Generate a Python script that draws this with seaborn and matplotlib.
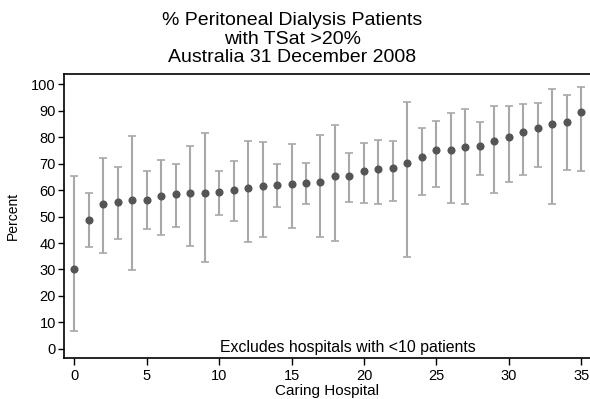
import matplotlib
matplotlib.use("Agg")
import matplotlib.pyplot as plt
import seaborn as sns
import numpy as np
import pandas as pd

hospital = list(range(36))
percent = [30.0, 48.7, 54.6, 55.6, 56.3, 56.4, 57.8, 58.5, 58.8, 58.9, 59.1, 60.0,
           60.9, 61.5, 62.0, 62.4, 62.7, 63.0, 65.2, 65.2, 67.2, 67.8, 68.2, 70.1,
           72.4, 75.1, 75.1, 76.1, 76.8, 78.6, 80.0, 81.8, 83.4, 84.8, 85.8, 89.6]
lower = [6.6, 38.4, 36.4, 41.4, 29.9, 45.3, 43.2, 46.2, 39.0, 33.0, 50.7, 48.4,
         40.4, 42.2, 53.6, 45.8, 54.6, 42.4, 40.8, 55.4, 55.1, 54.9, 56.0, 34.9,
         58.3, 61.1, 55.1, 54.9, 65.5, 59.0, 63.2, 65.7, 68.6, 54.6, 67.5, 67.0]
upper = [65.2, 58.7, 72.0, 68.7, 80.3, 67.1, 71.2, 69.8, 76.5, 81.7, 67.1, 70.8,
         78.5, 78.1, 69.7, 77.3, 70.1, 80.6, 84.7, 74.1, 77.7, 78.8, 78.4, 93.2,
         83.6, 86.0, 89.2, 90.6, 85.8, 91.7, 91.6, 92.3, 93.0, 98.0, 95.9, 98.9]

title_lines = ["% Peritoneal Dialysis Patients", "with TSat >20%", "Australia 31 December 2008"]
note = "Excludes hospitals with <10 patients"
x_ticks = [0, 5, 10, 15, 20, 25, 30, 35]
y_ticks = list(range(0, 101, 10))

df = pd.DataFrame({"hospital": hospital, "percent": percent,
                   "lower": lower, "upper": upper})

sns.set_style("white")
plt.rcParams["font.family"] = ["Liberation Sans", "DejaVu Sans"]
plt.rcParams["text.color"] = "black"
plt.rcParams["axes.labelcolor"] = "black"
plt.rcParams["xtick.color"] = "black"
plt.rcParams["ytick.color"] = "black"

fig = plt.figure(figsize=(5.9, 3.99), dpi=100)
ax = fig.add_axes([0.109, 0.1035, 0.891, 0.711])

yerr = np.vstack([df["percent"] - df["lower"], df["upper"] - df["percent"]])
ax.errorbar(df["hospital"], df["percent"], yerr=yerr, fmt="none",
            ecolor="#a8a8a8", elinewidth=1.5, capsize=2.6, capthick=1.2, zorder=2)
sns.scatterplot(data=df, x="hospital", y="percent", ax=ax, color="#555555",
                s=34, edgecolor="#555555", linewidth=0, zorder=3, legend=False)

ax.set_xlim(-0.68, 35.6)
ax.set_ylim(-3.3, 103.8)
ax.set_xticks(x_ticks)
ax.set_yticks(y_ticks)
ax.tick_params(axis="both", which="both", direction="out", length=4, width=1,
               color="black", labelcolor="black", labelsize=10.5,
               bottom=True, left=True, pad=2)
ax.tick_params(axis="x", length=5, pad=3)
ax.set_xlabel("Caring Hospital", fontsize=11, labelpad=1, color="black")
ax.set_ylabel("Percent", fontsize=10, labelpad=8, color="black")

for side in ["left", "bottom", "top"]:
    ax.spines[side].set_visible(True)
    ax.spines[side].set_color("black")
    ax.spines[side].set_linewidth(1.2)
ax.spines["right"].set_visible(False)

ax.text(0.54, 0.008, note, transform=ax.transAxes, ha="center", va="bottom",
        fontsize=11.4, color="black")

fig.text(0.495, 0.97, "\n".join(title_lines), ha="center", va="top",
         fontsize=14, linespacing=1.13, color="black")

fig.savefig("out.png", dpi=100)
